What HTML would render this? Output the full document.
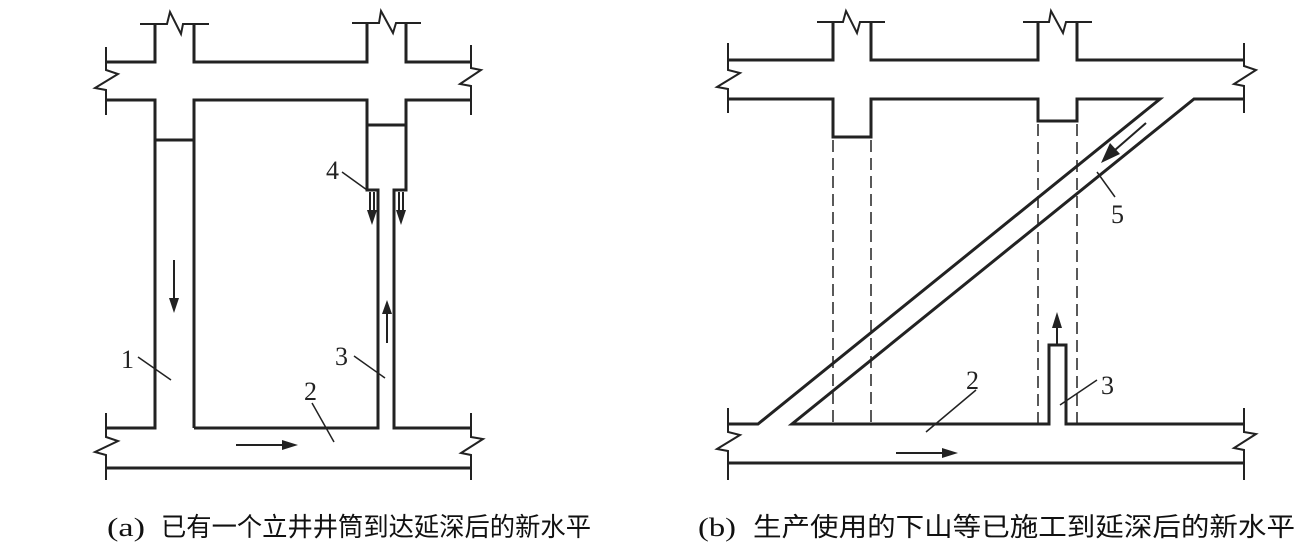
<!DOCTYPE html>
<html><head><meta charset="utf-8"><style>
html,body{margin:0;padding:0;background:#fff;}
svg{display:block}
</style></head><body>
<svg width="1308" height="550" viewBox="0 0 1308 550" xmlns="http://www.w3.org/2000/svg">
<g fill="none" stroke="#222" stroke-width="3" stroke-linejoin="miter">
<!-- ===== Diagram (a) ===== -->
<polyline points="106,62 155,62 155,24"/>
<polyline points="194,24 194,62 367,62 367,23"/>
<polyline points="406,23 406,62 471,62"/>
<polyline points="106,100 155,100 155,428 106,428"/>
<polyline points="471,100 406,100 406,190 394,190 394,428 471,428"/>
<polyline points="194,428 194,100 367,100 367,190 378,190 378,428 194,428"/>
<line x1="155" y1="140" x2="194" y2="140"/>
<line x1="367" y1="125" x2="406" y2="125"/>
<line x1="106" y1="468" x2="471" y2="468"/>
<g stroke-width="2">
<polyline points="140,24 167,24 170,12 181,34 183,24 209,24"/>
<polyline points="352,23 379,23 381,11 393,33 396,23 421,23"/>
<polyline points="106,47 106,70 118,74 95,88 106,90 106,115"/>
<polyline points="471,45 471,68 481,70 460,84 471,86 471,115"/>
<polyline points="106,413 106,437 118,441 95,452 106,455 106,480"/>
<polyline points="471,413 471,437 483,439 461,453 471,455 471,480"/>
<line x1="174" y1="260" x2="174" y2="300"/>
<line x1="387" y1="343" x2="387" y2="312"/>
<line x1="236" y1="445" x2="285" y2="445"/>
<line x1="370" y1="192" x2="370" y2="212"/><line x1="374" y1="192" x2="374" y2="212"/>
<line x1="399" y1="192" x2="399" y2="212"/><line x1="403" y1="192" x2="403" y2="212"/>
<line x1="342" y1="172" x2="367" y2="190" stroke-width="1.5"/>
<line x1="138" y1="357" x2="171" y2="380" stroke-width="1.5"/>
<line x1="354" y1="356" x2="385" y2="378" stroke-width="1.5"/>
<line x1="312" y1="403" x2="334" y2="442" stroke-width="1.5"/>
</g>
</g>
<g fill="#222" stroke="none">
<polygon points="169,298 179,298 174,313"/>
<polygon points="382,314 392,314 387,300"/>
<polygon points="282,440 282,450 298,445"/>
<polygon points="367,210 377,210 372,225"/>
<polygon points="396,210 406,210 401,225"/>
</g>
<g font-family="'Liberation Serif',serif" font-size="26" fill="#222">
<text x="326" y="179">4</text>
<text x="121" y="368">1</text>
<text x="335" y="365">3</text>
<text x="304" y="400">2</text>
</g>

<!-- ===== Diagram (b) ===== -->
<g fill="none" stroke="#222" stroke-width="3">
<polyline points="728,60 833,60 833,22"/>
<polyline points="871,22 871,60 1038,60 1038,22"/>
<polyline points="1077,22 1077,60 1244,60"/>
<polyline points="728,99 833,99 833,137 871,137 871,99 1038,99 1038,121 1077,121 1077,99 1160,99 758,424 728,424"/>
<polyline points="1244,99 1194,99 792,424 1049,424 1049,345 1066,345 1066,424 1244,424"/>
<line x1="728" y1="463" x2="1244" y2="463"/>
<g stroke-width="2">
<polyline points="817,22 843,22 846,11 857,33 860,22 885,22"/>
<polyline points="1023,22 1049,22 1051,11 1063,33 1066,22 1092,22"/>
<polyline points="728,43 728,70 740,73 717,87 728,89 728,113"/>
<polyline points="1244,43 1244,66 1256,70 1234,84 1244,86 1244,113"/>
<polyline points="728,408 728,432 740,435 717,449 728,451 728,480"/>
<polyline points="1244,408 1244,432 1256,434 1234,448 1244,450 1244,480"/>
</g>
<g stroke-width="1.5" stroke-dasharray="12,6">
<line x1="833" y1="140" x2="833" y2="424"/>
<line x1="871" y1="140" x2="871" y2="424"/>
<line x1="1038" y1="124" x2="1038" y2="424"/>
<line x1="1077" y1="124" x2="1077" y2="424"/>
</g>
<g stroke-width="2">
<line x1="896" y1="453" x2="945" y2="453"/>
<line x1="1057" y1="345" x2="1057" y2="325"/>
<line x1="1146" y1="123" x2="1115" y2="150"/>
</g>
<g stroke-width="1.5">
<line x1="1097" y1="172" x2="1115" y2="197"/>
<line x1="976" y1="390" x2="926" y2="432"/>
<line x1="1097" y1="380" x2="1060" y2="405"/>
</g>
</g>
<g fill="#222" stroke="none">
<polygon points="942,448 942,458 958,453"/>
<polygon points="1052,328 1062,328 1057,312"/>
<polygon points="1110,143 1120,154 1101,163"/>
</g>
<g font-family="'Liberation Serif',serif" font-size="26" fill="#222">
<text x="1111" y="223">5</text>
<text x="966" y="389">2</text>
<text x="1101" y="394">3</text>
</g>

<g font-family="'Liberation Serif','Noto Serif CJK SC',serif" font-size="26" fill="#111">
<text x="107" y="536" textLength="38" lengthAdjust="spacingAndGlyphs">(a)</text>
<text x="161" y="536" textLength="430" lengthAdjust="spacingAndGlyphs" font-family="'Noto Sans CJK SC',sans-serif" font-size="26">已有一个立井井筒到达延深后的新水平</text>
<text x="698" y="536" textLength="38" lengthAdjust="spacingAndGlyphs">(b)</text>
<text x="753" y="536" textLength="542" lengthAdjust="spacingAndGlyphs" font-family="'Noto Sans CJK SC',sans-serif" font-size="26">生产使用的下山等已施工到延深后的新水平</text>
</g>
</svg>
</body></html>
